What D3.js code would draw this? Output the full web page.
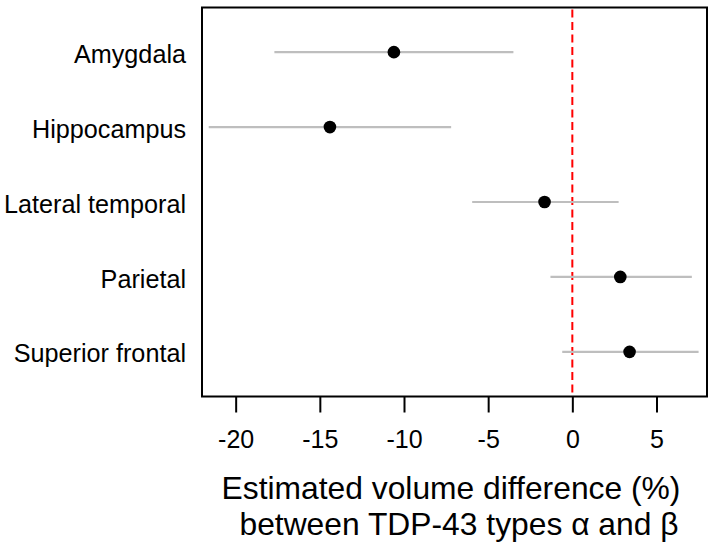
<!DOCTYPE html>
<html>
<head>
<meta charset="utf-8">
<script src="https://cdn.jsdelivr.net/npm/d3@7"></script>
<style>
  body { margin: 0; background: #fff; }
  text { font-family: "Liberation Sans", Arial, sans-serif; fill: #000; }
</style>
</head>
<body>
<svg id="chart" width="712" height="547"></svg>
<script>
// Regions, top to bottom
var regions = ["Amygdala", "Hippocampus", "Lateral temporal", "Parietal", "Superior frontal"]
// Point estimates and interval bounds (%)
var estimate = [-10.6, -14.4, -1.65, 2.85, 3.4]
var lower = [-17.7, -21.6, -5.95, -1.3, -0.6]
var upper = [-3.5, -7.2, 2.75, 7.1, 7.5]
// Axis ticks
var xTicks = [-20, -15, -10, -5, 0, 5]
var titleLines = ["Estimated volume difference (%)", "between TDP-43 types \u03b1 and \u03b2"]

var svg = d3.select('#chart')
var box = { left: 202, right: 707, top: 7.5, bottom: 396.5 }

var x = d3.scaleLinear().domain([-22, 8]).range([box.left, box.right])
var y = d3.scaleLinear().domain([0.404, 5.596]).range([box.top, box.bottom])

// Reference line at zero
svg.append('line')
  .attr('x1', x(0)).attr('x2', x(0))
  .attr('y1', box.top + 2).attr('y2', box.bottom)
  .attr('stroke', '#ff0000')
  .attr('stroke-width', 2)
  .attr('stroke-dasharray', '8,4.5')

var rows = svg.selectAll('g.row')
  .data(regions)
  .enter().append('g')
  .attr('class', 'row')

// Interval lines
rows.append('line')
  .attr('x1', function(d, i) { return x(lower[i]) })
  .attr('x2', function(d, i) { return x(upper[i]) })
  .attr('y1', function(d, i) { return y(i + 1) })
  .attr('y2', function(d, i) { return y(i + 1) })
  .attr('stroke', '#bebebe')
  .attr('stroke-width', 2.2)

// Point estimates
rows.append('circle')
  .attr('cx', function(d, i) { return x(estimate[i]) })
  .attr('cy', function(d, i) { return y(i + 1) })
  .attr('r', 6.3)
  .attr('fill', '#000')

// Region labels
rows.append('text')
  .attr('x', 186)
  .attr('y', function(d, i) { return y(i + 1) })
  .attr('dy', '0.42em')
  .attr('text-anchor', 'end')
  .style('font-size', '25.2px')
  .text(function(d) { return d })

// Frame
svg.append('rect')
  .attr('x', box.left).attr('y', box.top)
  .attr('width', box.right - box.left)
  .attr('height', box.bottom - box.top)
  .attr('fill', 'none')
  .attr('stroke', '#000')
  .attr('stroke-width', 2)

// Bottom axis
var xAxis = d3.axisBottom(x)
  .tickValues(xTicks)
  .tickSize(16)
  .tickPadding(18)
  .tickFormat(function(d) { return d < 0 ? '-' + Math.abs(d) : d })

var axisG = svg.append('g')
  .attr('transform', 'translate(0,' + box.bottom + ')')
  .call(xAxis)
axisG.select('.domain').remove()
axisG.selectAll('.tick line').attr('stroke', '#000').attr('stroke-width', 2)
axisG.selectAll('.tick text')
  .attr('fill', '#000')
  .style('font-family', '"Liberation Sans", Arial, sans-serif')
  .style('font-size', '25px')

// Axis title, two lines
svg.append('text')
  .attr('x', 451).attr('y', 499)
  .attr('text-anchor', 'middle')
  .style('font-size', '31.8px')
  .text(titleLines[0])
svg.append('text')
  .attr('x', 459).attr('y', 535)
  .attr('text-anchor', 'middle')
  .style('font-size', '31.8px')
  .text(titleLines[1])
</script>
</body>
</html>
